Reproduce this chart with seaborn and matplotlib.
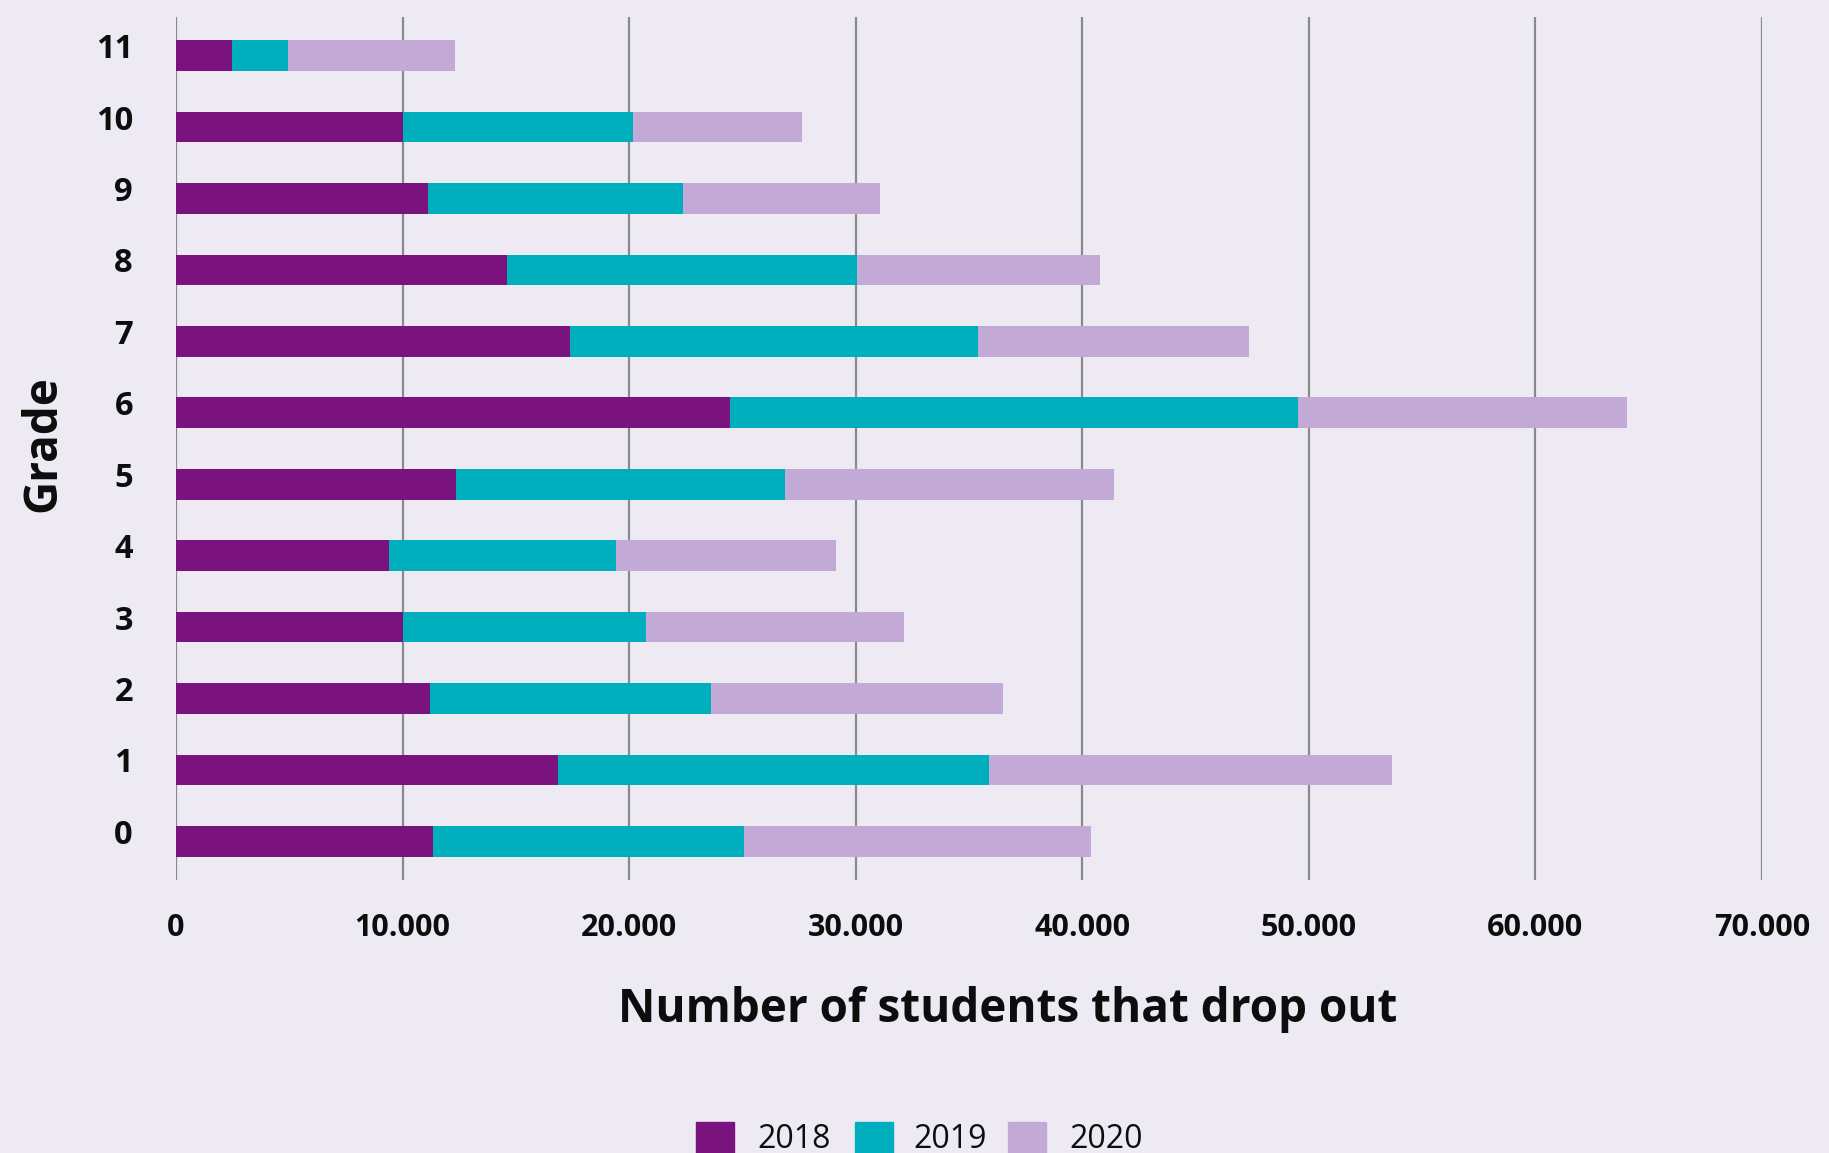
import matplotlib
matplotlib.use("Agg")
import matplotlib.pyplot as plt
import matplotlib.transforms as mtransforms
import seaborn as sns
import pandas as pd
import numpy as np
from matplotlib.patches import Rectangle
from matplotlib import font_manager

grades = ["11", "10", "9", "8", "7", "6", "5", "4", "3", "2", "1", "0"]
v2018 = [2475, 10010, 11110, 14600, 17380, 24470, 12350, 9420, 10010, 11200, 16850, 11340]
v2019 = [2450, 10180, 11250, 15470, 18030, 25030, 14510, 10010, 10720, 12400, 19040, 13750]
v2020 = [7370, 7450, 8690, 10690, 11940, 14520, 14520, 9710, 11420, 12910, 17770, 15300]
years = ["2018", "2019", "2020"]
xticks = [0, 10000, 20000, 30000, 40000, 50000, 60000, 70000]
xticklabels = ["0", "10.000", "20.000", "30.000", "40.000", "50.000", "60.000", "70.000"]

C18, C19, C20 = "#7B137F", "#00AFBD", "#C3AAD6"
BG = "#EDEAF4"
TXT = "#0d0d0d"

sns.set_theme(style="white")
names = {f.name for f in font_manager.fontManager.ttflist}
BOLD = "Open Sans" if "Open Sans" in names else "DejaVu Sans"
LEG = "Open Sans" if "Open Sans" in names else "DejaVu Sans"
plt.rcParams["font.family"] = [BOLD, "DejaVu Sans"]

df = pd.DataFrame({"grade": grades, "y2018": v2018, "y2019": v2019, "y2020": v2020})
df["c2"] = df["y2018"] + df["y2019"]
df["c3"] = df["c2"] + df["y2020"]

fig = plt.figure(figsize=(18.29, 11.53), dpi=100, facecolor=BG)
ax = fig.add_axes([176/1829, 1-880/1153, (1762-176)/1829, (880-17)/1153])
ax.set_facecolor(BG)

w = 0.43
kw = dict(width=w, ax=ax, saturation=1, linewidth=0, edgecolor="none", zorder=3)
sns.barplot(data=df, x="c3", y="grade", order=grades, color=C20, **kw)
sns.barplot(data=df, x="c2", y="grade", order=grades, color=C19, **kw)
sns.barplot(data=df, x="y2018", y="grade", order=grades, color=C18, **kw)

ax.set_xlim(0, 70000)
ax.set_ylim(11.54, -0.54)
ax.set_xticks(xticks)
ax.set_xticklabels(xticklabels, fontsize=22, fontweight="bold")
ax.tick_params(axis="x", length=0, pad=24, colors=TXT)
ax.tick_params(axis="y", length=0, pad=31, colors=TXT)
off = mtransforms.ScaledTranslation(0, 10/100, fig.dpi_scale_trans)
for lab in ax.get_yticklabels():
    lab.set_fontsize(23.5)
    lab.set_fontweight("bold")
    lab.set_transform(lab.get_transform() + off)
for s in ax.spines.values():
    s.set_visible(False)
ax.grid(axis="x", color="#8a8a8a", lw=1.6, zorder=0)
ax.grid(axis="y", visible=False)
ax.set_axisbelow(True)

ax.set_xlabel("Number of students that drop out", fontsize=33, fontweight="bold", color=TXT, va="center")
ax.xaxis.set_label_coords(0.5245, -0.1495)
ax.set_ylabel("Grade", fontsize=33, fontweight="bold", color=TXT, va="center")
ax.yaxis.set_label_coords(-0.0839, 0.506)

# legend
sq = [(696, C18, "2018", 757), (855, C19, "2019", 913), (1008, C20, "2020", 1069)]
for x0, col, lab, tx in sq:
    fig.patches.append(Rectangle((x0/1829, 1-1160/1153), 38/1829, 38/1153,
                                 transform=fig.transFigure, color=col, zorder=5))
    fig.text(tx/1829, 1-1135/1153, lab, fontsize=23, family=[LEG, "DejaVu Sans"],
             ha="left", va="center_baseline", color=TXT)

fig.savefig("out.png", dpi=100, facecolor=BG)
